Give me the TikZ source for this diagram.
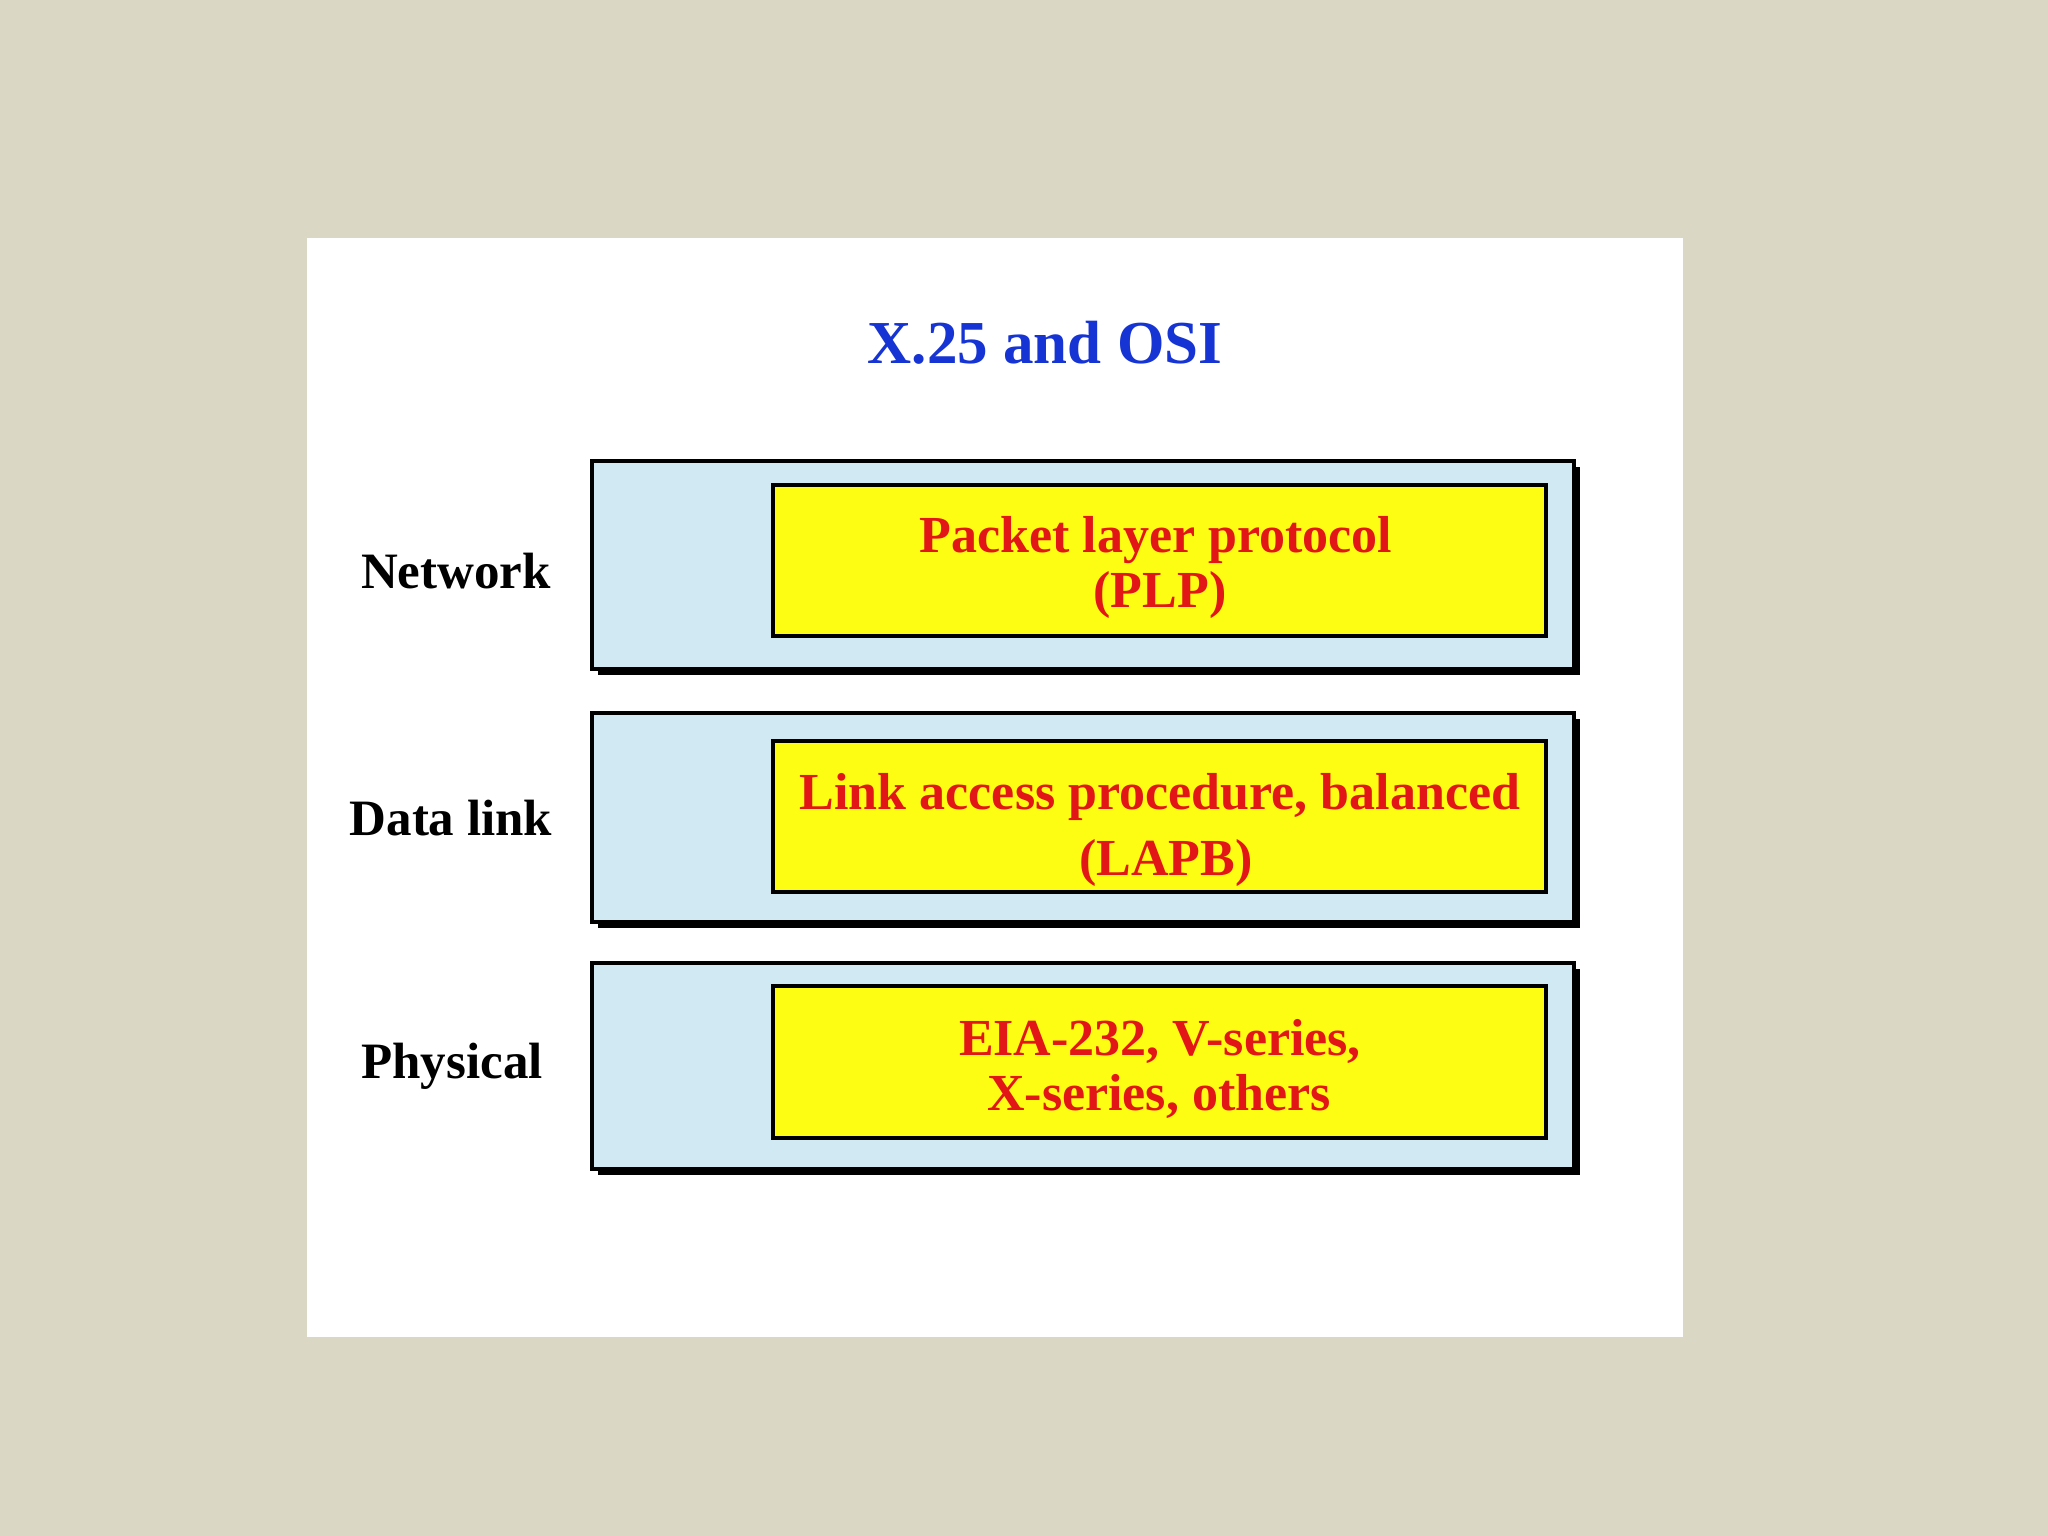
\documentclass[tikz,border=0pt]{standalone}
\usepackage{fontspec}
\setmainfont{Liberation Serif}
\definecolor{bgbeige}{RGB}{218,216,196}
\definecolor{panelblue}{RGB}{208,233,242}
\definecolor{boxyellow}{RGB}{253,253,20}
\definecolor{txtred}{RGB}{226,22,22}
\definecolor{titleblue}{RGB}{22,52,212}
\tikzset{
  layerbox/.style={draw=black, line width=4pt, fill=panelblue},
  shadowbox/.style={fill=black},
  protobox/.style={draw=black, line width=4pt, fill=boxyellow},
  redtxt/.style={text=txtred, font=\fontsize{52}{55}\selectfont\bfseries, anchor=base, inner sep=0pt},
  lbl/.style={text=black, font=\fontsize{51}{55}\selectfont\bfseries, anchor=base, inner sep=0pt},
}
\begin{document}
\begin{tikzpicture}[x=1pt,y=-1pt]
\useasboundingbox (0,0) rectangle (2048,1536);
\fill[bgbeige] (0,0) rectangle (2048,1536);
\fill[white] (307,238) rectangle (1683,1337);
\node[text=titleblue, font=\fontsize{61}{65}\selectfont\bfseries, anchor=base, inner sep=0pt] (title) at (1045,363) {X.25 and OSI};
% Network
\fill[shadowbox] (598,467) rectangle (1580,675);
\draw[layerbox] (592,461) rectangle (1574,669);
\draw[protobox] (773,485) rectangle (1546,636);
\node[redtxt] (plpa) at (1156,552) {Packet layer protocol};
\node[redtxt] (plpb) at (1160,607) {(PLP)};
\node[lbl] (net) at (456,588) {Network};
% Data link
\fill[shadowbox] (598,719) rectangle (1580,928);
\draw[layerbox] (592,713) rectangle (1574,922);
\draw[protobox] (773,741) rectangle (1546,892);
\node[redtxt] (lapba) at (1160,809) {Link access procedure, balanced};
\node[redtxt] (lapbb) at (1166,875) {(LAPB)};
\node[lbl] (dl) at (451,835) {Data link};
% Physical
\fill[shadowbox] (598,969) rectangle (1580,1175);
\draw[layerbox] (592,963) rectangle (1574,1169);
\draw[protobox] (773,986) rectangle (1546,1138);
\node[redtxt] (phya) at (1160,1055) {EIA-232, V-series,};
\node[redtxt] (phyb) at (1159,1110) {X-series, others};
\node[lbl] (phy) at (452,1078) {Physical};
\end{tikzpicture}
\end{document}
